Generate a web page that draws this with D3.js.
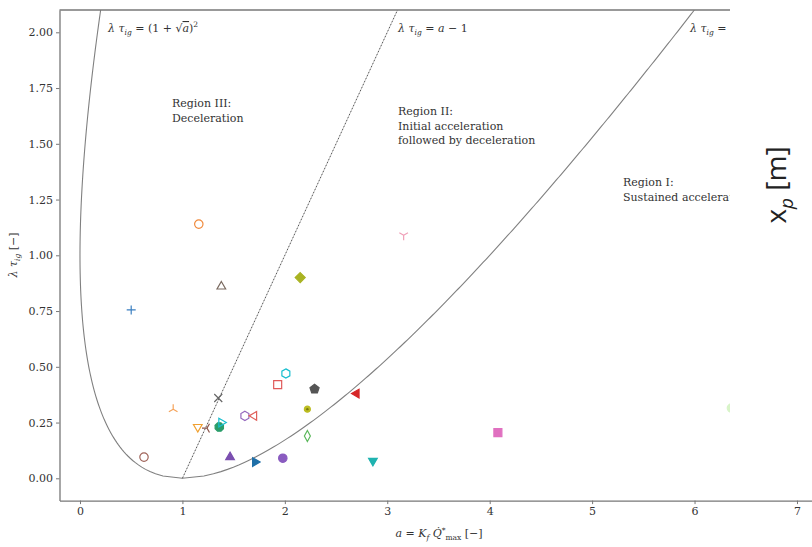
<!DOCTYPE html>
<html>
<head>
<meta charset="utf-8">
<script src="https://cdn.jsdelivr.net/npm/d3@7"></script>
<style>
  body { margin: 0; background: #fff; }
  svg text { font-family: "DejaVu Serif", serif; fill: #333; }
  .axis path, .axis line { stroke: #777; }
  .axis text { font-size: 11px; fill: #333; }
</style>
</head>
<body>
<div id="chart"></div>
<script>
// measured points: a = K_f Q*max, lambda tau_ig
var pointA   = [0.50, 1.16, 1.38, 2.15, 3.16, 0.91, 0.625, 1.35, 1.15, 1.24, 1.36, 1.38, 1.61, 1.70, 1.93, 2.01, 2.29, 2.70, 2.22, 2.22, 1.465, 1.71, 1.98, 2.86, 4.08, 6.36];
var pointTau = [0.755, 1.14, 0.86, 0.90, 1.09, 0.31, 0.095, 0.36, 0.23, 0.225, 0.23, 0.25, 0.28, 0.28, 0.42, 0.47, 0.40, 0.38, 0.31, 0.19, 0.095, 0.073, 0.09, 0.078, 0.205, 0.315];
var pointMarker = ["plus", "circle", "triUp", "diamond", "tri_down", "tri_up", "circle", "x", "triDown", "tri_left", "octagon", "triRight", "hexagon", "triLeft", "square", "hexagon", "pentagon", "triLeft", "star", "thin_diamond", "triUp", "triRight", "circle", "triDown", "square", "circle"];
var pointColor = ["#3a7fc1", "#f08a3c", "#7a6a60", "#a9b322", "#f0a0b8", "#f5a35a", "#a0645a", "#666666", "#f0a030", "#8c564b", "#2a9d6a", "#17becf", "#9467bd", "#e0605a", "#e05a5a", "#17becf", "#555555", "#d62728", "#bcbd22", "#5cb85c", "#7b4fb0", "#1f6fa8", "#8a5cc0", "#1fb3b0", "#e070c0", "#d8f4c8"];
var pointFilled = [false, false, false, true, false, false, false, false, false, false, true, false, false, false, false, false, true, true, true, false, true, true, true, true, true, true];

var xTicks = [0, 1, 2, 3, 4, 5, 6, 7];
var yTicks = [0, 0.25, 0.5, 0.75, 1.0, 1.25, 1.5, 1.75, 2.0];

var outerWidth = 812, outerHeight = 547;

var svg = d3.select("#chart").append("svg")
    .attr("width", outerWidth)
    .attr("height", outerHeight);

var xScale = d3.scaleLinear().domain([-0.2, 7.3]).range([59.5, 827.7]);
var yScale = d3.scaleLinear().domain([-0.1, 2.1]).range([500.6, 10]);

svg.append("clipPath").attr("id", "plotclip")
    .append("rect")
    .attr("x", 59.5).attr("y", 10)
    .attr("width", 827.7 - 59.5).attr("height", 490.6);

var plot = svg.append("g").attr("clip-path", "url(#plotclip)");

// boundary curves: a = (1 -/+ sqrt(lambda tau))^2 and lambda tau = a - 1
var tauGrid = d3.range(0, 2.1001, 0.01);
var leftBranch = tauGrid.map(t => [Math.pow(1 - Math.sqrt(t), 2), t]).reverse();
var rightBranch = tauGrid.map(t => [Math.pow(1 + Math.sqrt(t), 2), t]);
var bound = leftBranch.concat(rightBranch);

var line = d3.line()
    .x(d => xScale(d[0]))
    .y(d => yScale(d[1]));

plot.append("path")
    .datum(bound)
    .attr("d", line)
    .attr("fill", "none")
    .attr("stroke", "#808080")
    .attr("stroke-width", 1.1);

plot.append("path")
    .datum([[1, 0], [3.1, 2.1]])
    .attr("d", line)
    .attr("fill", "none")
    .attr("stroke", "#555")
    .attr("stroke-width", 1)
    .attr("stroke-dasharray", "2,1.3");

// marker shapes
function polygon(n, r, rot) {
    var pts = [];
    for (var i = 0; i < n; i++) {
        var ang = rot + i * 2 * Math.PI / n;
        pts.push([r * Math.sin(ang), -r * Math.cos(ang)]);
    }
    return "M" + pts.map(p => p[0].toFixed(2) + "," + p[1].toFixed(2)).join("L") + "Z";
}
function spokes(n, r, rot) {
    var s = "";
    for (var i = 0; i < n; i++) {
        var ang = rot + i * 2 * Math.PI / n;
        s += "M0,0L" + (r * Math.sin(ang)).toFixed(2) + "," + (-r * Math.cos(ang)).toFixed(2);
    }
    return s;
}
function markerPath(m) {
    switch (m) {
        case "circle": return "M4.2,0A4.2,4.2 0 1,1 -4.2,0A4.2,4.2 0 1,1 4.2,0Z";
        case "square": return "M-4,-4H4V4H-4Z";
        case "diamond": return polygon(4, 5, 0);
        case "thin_diamond": return "M0,-5.5L3,0L0,5.5L-3,0Z";
        case "triUp": return polygon(3, 5, 0);
        case "triDown": return polygon(3, 5, Math.PI);
        case "triLeft": return polygon(3, 5, -Math.PI / 2);
        case "triRight": return polygon(3, 5, Math.PI / 2);
        case "pentagon": return polygon(5, 4.8, 0);
        case "hexagon": return polygon(6, 4.6, 0);
        case "octagon": return polygon(8, 4.5, Math.PI / 8);
        case "star": return "M3,0A3,3 0 1,1 -3,0A3,3 0 1,1 3,0Z";
        case "plus": return "M-4.5,0H4.5M0,-4.5V4.5";
        case "x": return "M-4,-4L4,4M-4,4L4,-4";
        case "tri_down": return spokes(3, 5, Math.PI);
        case "tri_up": return spokes(3, 5, 0);
        case "tri_left": return spokes(3, 5, -Math.PI / 2);
    }
}
var strokeOnly = ["plus", "x", "tri_down", "tri_up", "tri_left"];

var idx = d3.range(pointA.length);
plot.selectAll(".pt")
    .data(idx)
    .enter()
    .append("path")
    .attr("class", "pt")
    .attr("transform", i => "translate(" + xScale(pointA[i]) + "," + yScale(pointTau[i]) + ")")
    .attr("d", i => markerPath(pointMarker[i]))
    .attr("fill", i => (pointFilled[i] && strokeOnly.indexOf(pointMarker[i]) < 0) ? pointColor[i] : "none")
    .attr("stroke", i => pointColor[i])
    .attr("stroke-width", 1.2);

// star marker center dot
plot.selectAll(".ptc")
    .data(idx.filter(i => pointMarker[i] == "star"))
    .enter()
    .append("circle")
    .attr("cx", i => xScale(pointA[i]))
    .attr("cy", i => yScale(pointTau[i]))
    .attr("r", 1.2)
    .attr("fill", "#7a7a10");

// annotations
function mathLabel(x, y, rest) {
    var t = svg.append("text").attr("x", x).attr("y", y).attr("font-size", 11);
    t.append("tspan").attr("font-style", "italic").text("λ τ");
    t.append("tspan").attr("font-size", 7.5).attr("dy", 3).attr("font-style", "italic").text("ig");
    var r = t.append("tspan").attr("dy", -3);
    rest(r, t);
    return t;
}
mathLabel(108, 32, function(r, t) {
    r.text(" = (1 + √");
    t.append("tspan").attr("font-style", "italic").attr("text-decoration", "overline").text("a");
    t.append("tspan").text(")");
    t.append("tspan").attr("font-size", 7.5).attr("dy", -5).text("2");
});
mathLabel(398, 32, function(r, t) {
    r.text(" = ");
    t.append("tspan").attr("font-style", "italic").text("a");
    t.append("tspan").text(" − 1");
});
mathLabel(690, 32, function(r, t) {
    r.text(" = (1 − √");
    t.append("tspan").attr("font-style", "italic").attr("text-decoration", "overline").text("a");
    t.append("tspan").text(")");
    t.append("tspan").attr("font-size", 7.5).attr("dy", -5).text("2");
});

var regionText = [
    {x: 172, y: 107, lines: ["Region III:", "Deceleration"]},
    {x: 398, y: 115, lines: ["Region II:", "Initial acceleration", "followed by deceleration"]},
    {x: 623, y: 186, lines: ["Region I:", "Sustained acceleration"]}
];
regionText.forEach(function(r) {
    var t = svg.append("text").attr("font-size", 11).attr("fill", "#444");
    r.lines.forEach(function(l, i) {
        t.append("tspan").attr("x", r.x).attr("y", r.y + i * 14.5).text(l);
    });
});

// axes
var xAxis = d3.axisBottom(xScale).tickValues(xTicks).tickFormat(d3.format("d")).tickSize(3.5).tickSizeOuter(0);
var yAxis = d3.axisLeft(yScale).tickValues(yTicks).tickFormat(d3.format(".2f")).tickSize(3.5).tickSizeOuter(0);

svg.append("g").attr("class", "axis")
    .attr("transform", "translate(0," + 500.6 + ")")
    .call(xAxis)
    .call(g => g.select(".domain").attr("stroke-width", 1.3));

svg.append("g").attr("class", "axis")
    .attr("transform", "translate(59.5,0)")
    .call(yAxis)
    .call(g => g.select(".domain").attr("stroke-width", 1.3));

svg.append("line")
    .attr("x1", 59.5).attr("x2", 827.7)
    .attr("y1", 10).attr("y2", 10)
    .attr("stroke", "#777").attr("stroke-width", 1.3);

// axis titles
var xl = svg.append("text").attr("x", 439).attr("y", 537).attr("text-anchor", "middle").attr("font-size", 11);
xl.append("tspan").attr("font-style", "italic").text("a");
xl.append("tspan").text(" = ");
xl.append("tspan").attr("font-style", "italic").text("K");
xl.append("tspan").attr("font-style", "italic").attr("font-size", 7.5).attr("dy", 3).text("f");
xl.append("tspan").attr("font-style", "italic").attr("dy", -3).text(" Q\u0307");
xl.append("tspan").attr("font-size", 7.5).attr("dy", -4).text("*");
xl.append("tspan").attr("font-size", 7.5).attr("dy", 7).text("max");
xl.append("tspan").attr("dy", -3).text(" [−]");

var yl = svg.append("text").attr("transform", "translate(17,255) rotate(-90)").attr("text-anchor", "middle").attr("font-size", 11);
yl.append("tspan").attr("font-style", "italic").text("λ τ");
yl.append("tspan").attr("font-style", "italic").attr("font-size", 7.5).attr("dy", 3).text("ig");
yl.append("tspan").attr("dy", -3).text(" [−]");

// pasted panel on the right covering part of the plot
svg.append("rect")
    .attr("x", 730).attr("y", 0)
    .attr("width", 82).attr("height", 495)
    .attr("fill", "#fff");

var xp = svg.append("text")
    .attr("transform", "translate(786,185) rotate(-90)")
    .attr("text-anchor", "middle")
    .style("font-family", "'Open Sans', sans-serif")
    .style("fill", "#222")
    .attr("font-size", 28);
xp.append("tspan").text("x");
xp.append("tspan").attr("font-style", "italic").attr("font-size", 19).attr("dy", 7).text("p");
xp.append("tspan").attr("dy", -7).text(" [m]");
</script>
</body>
</html>
